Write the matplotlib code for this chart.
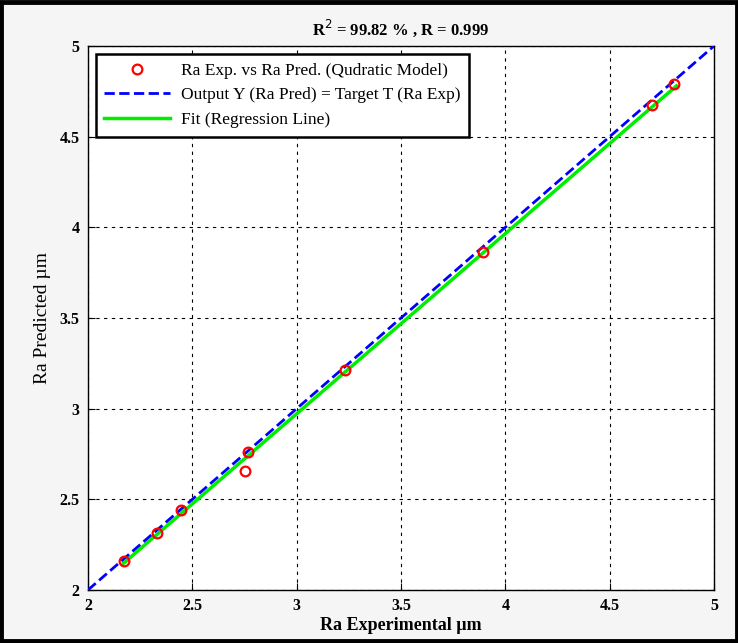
import matplotlib.pyplot as plt
from matplotlib.patches import Rectangle

# Experimental vs predicted surface roughness (Ra)
ra_exp = [2.172, 2.332, 2.444, 2.752, 2.768, 3.231, 3.893, 4.702, 4.81]
ra_pred = [2.16, 2.316, 2.441, 2.658, 2.76, 3.213, 3.864, 4.675, 4.79]

# regression line
fit_x = [2.17, 4.82]
fit_y = [2.147, 4.78]

target_x = [2, 5]
target_y = [2, 5]

ticks = [2, 2.5, 3, 3.5, 4, 4.5, 5]

plt.rcParams['font.family'] = ['Liberation Serif', 'DejaVu Serif']

fig = plt.figure(figsize=(7.38, 6.43), dpi=100)
fig.patch.set_facecolor('#f5f5f5')
fig.patches.append(Rectangle((0.002, 0.003), 0.996, 0.994, transform=fig.transFigure,
                             fill=False, edgecolor='black', linewidth=3.5))

ax = fig.add_axes([0.1192, 0.0824, 0.8483, 0.8461])
ax.plot(ra_exp, ra_pred, 'o', mfc='none', mec='red', mew=1.6, ms=7,
        label='Ra Exp. vs Ra Pred. (Qudratic Model)', zorder=4)
ax.plot(target_x, target_y, '--', color='blue', lw=2,
        label='Output Y (Ra Pred) = Target T (Ra Exp)', zorder=3)
ax.plot(fit_x, fit_y, '-', color='#00ee00', lw=2.5,
        label='Fit (Regression Line)', zorder=2)

ax.set_xlim(2, 5)
ax.set_ylim(2, 5)
ax.set_xticks(ticks)
ax.set_yticks(ticks)
ax.set_xticklabels([f'{t:g}' for t in ticks], fontweight='bold', fontsize=11.5)
ax.set_yticklabels([f'{t:g}' for t in ticks], fontweight='bold', fontsize=11.5)
ax.tick_params(direction='in', length=5, width=0.8, pad=6)
ax.grid(True, color='black', linestyle=(0, (3, 4)), linewidth=0.8)
for s in ax.spines.values():
    s.set_linewidth(1.0)

ax.set_xlabel('Ra Experimental µm', fontweight='bold', fontsize=13, labelpad=2)
ax.set_ylabel('Ra Predicted µm', fontsize=14, labelpad=6)
ax.set_title('R$^2$ = 99.82 % , R = 0.999', fontweight='bold', fontsize=12, pad=8)

leg = ax.legend(loc='upper left', fontsize=12.5, frameon=True, fancybox=False,
                borderaxespad=0.45, handlelength=3.8, handletextpad=0.6,
                labelspacing=0.5, borderpad=0.5)
leg.get_frame().set_edgecolor('black')
leg.get_frame().set_linewidth(1.8)
leg.get_frame().set_alpha(1)

fig.savefig('out.png', dpi=100, facecolor=fig.get_facecolor())
